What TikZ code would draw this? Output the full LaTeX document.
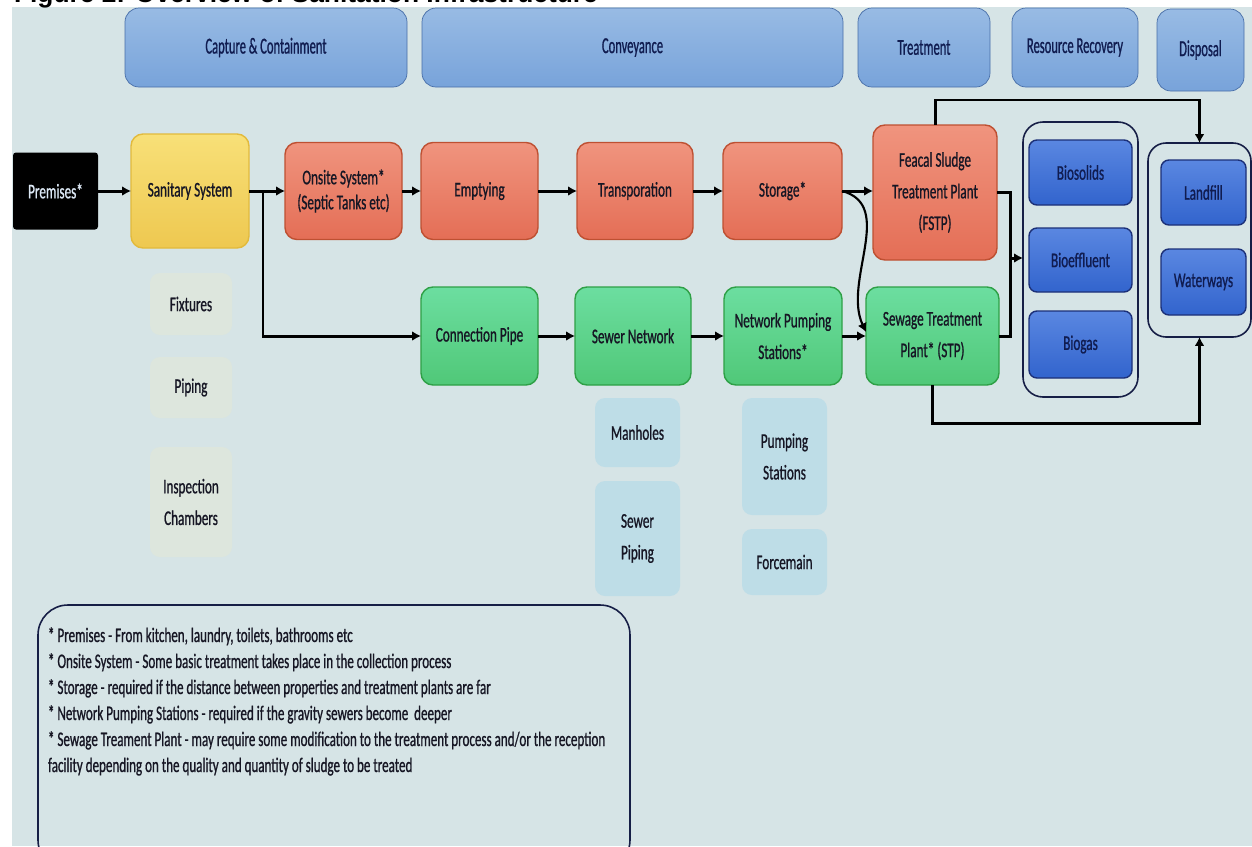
\documentclass[tikz,border=0pt]{standalone}
\usepackage{fontspec}
\setmainfont{Carlito}[FakeStretch=0.63, FakeBold=0.8]
\newfontfamily\hdrfont{Carlito}[FakeStretch=0.55, FakeBold=0.8]
\newfontfamily\titlefont{Liberation Sans}
\usetikzlibrary{arrows.meta}

\definecolor{bgpanel}{RGB}{214,228,230}
\definecolor{hdrtop}{RGB}{152,187,228}
\definecolor{hdrbot}{RGB}{120,163,218}
\definecolor{hdrline}{RGB}{72,110,168}
\definecolor{redtop}{RGB}{240,148,126}
\definecolor{redbot}{RGB}{228,110,86}
\definecolor{redline}{RGB}{190,80,50}
\definecolor{grntop}{RGB}{108,222,160}
\definecolor{grnbot}{RGB}{80,200,120}
\definecolor{grnline}{RGB}{46,160,70}
\definecolor{yeltop}{RGB}{248,224,120}
\definecolor{yelbot}{RGB}{238,200,80}
\definecolor{yelline}{RGB}{226,186,60}
\definecolor{bluetop}{RGB}{90,135,225}
\definecolor{bluebot}{RGB}{50,100,205}
\definecolor{blueline}{RGB}{28,48,120}
\definecolor{navytext}{RGB}{16,28,80}
\definecolor{inktext}{RGB}{22,22,36}
\definecolor{palegreen}{RGB}{221,230,221}
\definecolor{paleblue}{RGB}{190,221,231}
\definecolor{boxline}{RGB}{22,30,70}
\definecolor{premtext}{RGB}{220,232,245}

\begin{document}
\begin{tikzpicture}[x=0.02cm, y=-0.02cm,
	every node/.style={font=\fontsize{11.9pt}{18pt}\selectfont, align=center, outer sep=0pt, text=inktext},
	sz/.style 2 args={minimum width=#1*0.02cm, minimum height=#2*0.02cm, inner sep=0pt},
	hdr/.style={draw=hdrline, top color=hdrtop, bottom color=hdrbot, rounded corners=0.28cm, font=\hdrfont\fontsize{13pt}{16pt}\selectfont, text=navytext},
	redbox/.style={draw=redline, line width=0.8pt, top color=redtop, bottom color=redbot, rounded corners=0.24cm},
	grnbox/.style={draw=grnline, line width=0.8pt, top color=grntop, bottom color=grnbot, rounded corners=0.24cm},
	yelbox/.style={draw=yelline, line width=0.8pt, top color=yeltop, bottom color=yelbot, rounded corners=0.24cm},
	resbox/.style={draw=blueline, line width=0.8pt, top color=bluetop, bottom color=bluebot, rounded corners=0.16cm, text=navytext},
	container/.style={draw=boxline, line width=0.9pt},
	subgrn/.style={fill=palegreen, rounded corners=0.2cm},
	subblue/.style={fill=paleblue, rounded corners=0.2cm},
	note/.style={font=\fontsize{11.8pt}{15pt}\selectfont, inner sep=0pt},
	pipe/.style={line width=1.7pt},
	flow/.style={line width=1.7pt, -{Latex[length=5pt,width=5.5pt]}}]
	\useasboundingbox (0,0) rectangle (1252,846);
	\clip (0,0) rectangle (1252,846);
	\fill[bgpanel] (12,7) rectangle (1252,846);
	\node[anchor=base west, inner sep=0pt, font=\titlefont\bfseries\fontsize{15pt}{16pt}\selectfont, text=black] (title) at (14,2) {Figure 2: Overview of Sanitation Infrastructure};

	% stage headers
	\node[hdr, sz={282}{79}] (capture) at (266,47.5) {Capture \& Containment};
	\node[hdr, sz={421}{79}] (convey) at (632.5,47.5) {Conveyance};
	\node[hdr, sz={132}{79}] (treat) at (924,47.5) {Treatment};
	\node[hdr, sz={126}{79}] (recover) at (1075,47.5) {Resource Recovery};
	\node[hdr, sz={87}{82}] (dispose) at (1200.5,50) {Disposal};

	% onsite chain
	\node[fill=black, rounded corners=0.06cm, sz={85}{77}, text=premtext] (premises) at (55.5,191) {Premises*};
	\node[yelbox, sz={118}{114}] (sanitary) at (190,191) {Sanitary System};
	\node[redbox, sz={117}{97}, font=\fontsize{11.9pt}{14.2pt}\selectfont] (onsite) at (343.5,191) {Onsite System*\\(Septic Tanks etc)};
	\node[redbox, sz={117}{97}] (emptying) at (479.5,191) {Emptying};
	\node[redbox, sz={116}{97}] (transport) at (635,191) {Transporation};
	\node[redbox, sz={119}{97}] (storage) at (782.5,191) {Storage*};
	\node[redbox, sz={124}{135}] (fstp) at (935,192.5) {Feacal Sludge\\Treatment Plant\\(FSTP)};

	% sewer chain
	\node[grnbox, sz={117}{98}] (connpipe) at (479.5,336) {Connection Pipe};
	\node[grnbox, sz={116}{98}] (sewernet) at (633,336) {Sewer Network};
	\node[grnbox, sz={118}{98}] (netpump) at (783,336) {Network Pumping\\Stations*};
	\node[grnbox, sz={133}{98}] (stp) at (932.5,336) {Sewage Treatment\\Plant* (STP)};

	% recovery and disposal
	\node[container, rounded corners=0.4cm, sz={115}{275}] (rescont) at (1080.5,259.5) {};
	\node[resbox, sz={103}{65}] (biosolids) at (1080.5,172.5) {Biosolids};
	\node[resbox, sz={103}{64}] (bioeffluent) at (1080.5,260) {Bioeffluent};
	\node[resbox, sz={103}{67}] (biogas) at (1080.5,344.5) {Biogas};
	\node[container, rounded corners=0.36cm, sz={103}{194}] (dispcont) at (1199.5,240) {};
	\node[resbox, sz={85}{65}] (landfill) at (1203.5,192.5) {Landfill};
	\node[resbox, sz={85}{66}] (waterways) at (1203.5,282) {Waterways};

	% components
	\node[subgrn, sz={82}{62}] (fixtures) at (191,304) {Fixtures};
	\node[subgrn, sz={82}{61}] (piping) at (191,387.5) {Piping};
	\node[subgrn, sz={82}{110}] (inspect) at (191,502) {Inspection\\Chambers};
	\node[subblue, sz={85}{69}] (manholes) at (637.5,432.5) {Manholes};
	\node[subblue, sz={85}{115}] (sewerpipe) at (637.5,538.5) {Sewer\\Piping};
	\node[subblue, sz={85}{117}] (pumpst) at (784.5,456.5) {Pumping\\Stations};
	\node[subblue, sz={85}{66}] (forcemain) at (784.5,562) {Forcemain};

	% flows
	\coordinate (split) at (263,191);
	\draw[flow] (premises) -- (sanitary);
	\draw[flow] (sanitary) -- (onsite);
	\draw[flow] (split) |- (connpipe.west);
	\draw[flow] (onsite) -- (emptying);
	\draw[flow] (emptying) -- (transport);
	\draw[flow] (transport) -- (storage);
	\draw[flow] (storage.east) -- (storage.east -| fstp.west);
	\draw[flow, line width=1.2pt] (storage.east) to[out=-15, in=115] ([yshift=0.08cm]stp.west);
	\draw[flow] (connpipe) -- (sewernet);
	\draw[flow] (sewernet) -- (netpump);
	\draw[flow] (netpump) -- (stp);
	\coordinate (merge) at (1010,258);
	\draw[pipe] (fstp.east) -| (merge);
	\draw[pipe] (stp.east) -| (merge);
	\draw[flow] (merge) -- (merge -| rescont.west);
	\draw[flow] (fstp.north) -- ++(0,-25) -| (dispcont.north);
	\draw[flow] (stp.south) -- ++(0,38) -| (dispcont.south);

	% notes
	\node[container, rounded corners=0.6cm, sz={592}{265}, anchor=north west] (notes) at (38,605) {};
	\foreach \txt [count=\i] in {{* Premises - From kitchen, laundry, toilets, bathrooms etc},
		{* Onsite System - Some basic treatment takes place in the collection process},
		{* Storage - required if the distance between properties and treatment plants are far},
		{* Network Pumping Stations - required if the gravity sewers become\ \ deeper},
		{* Sewage Treament Plant - may require some modification to the treatment process and/or the reception},
		{facility depending on the quality and quantity of sludge to be treated}}
		\node[note, anchor=base west] (note\i) at (48,616+26*\i) {\txt};
\end{tikzpicture}
\end{document}
